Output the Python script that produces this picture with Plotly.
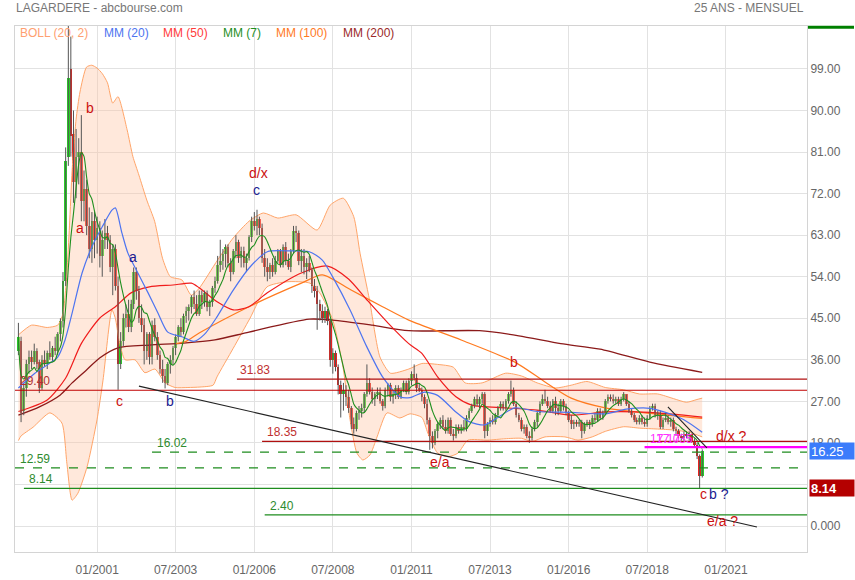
import plotly.graph_objects as go
import pandas as pd

# ---------------- DATA (monthly, 1998-07 .. 2020-04) ----------------
start = pd.Timestamp("1998-07-01")
months = pd.date_range("1998-07-01", periods=262, freq="MS")

opens = [
    38, 40, 25, 30, 35, 36.5,
    35.5, 38, 35.5, 30, 36, 35, 37.5, 36.5, 38.5, 38, 41.5, 44.5,
    53, 80, 99, 85, 74.5, 80, 81, 70.5, 73, 65, 60, 66,
    62, 64.5, 58.5, 62, 63.5, 62, 56, 60, 52, 35, 40, 45,
    46, 43, 48, 55, 51, 45, 43.5, 38, 41.5, 36.5, 43.5, 41,
    37, 34, 32.5, 31, 35, 36, 38.5, 41, 43, 42, 45.5, 46.5,
    47.5, 49.5, 48, 46, 50, 48.5, 50.5, 47.5, 48.5, 51.5, 53, 56.5,
    57.5, 59, 60.5, 57, 55, 59.5, 61.5, 58, 59.5, 57, 58, 62.5,
    66, 65, 66.5, 64.5, 58, 56, 55, 56.5, 55, 57.5, 59.5, 56.5,
    60.5, 57.5, 56, 59.5, 64, 63.5, 57.5, 58.5, 56, 57, 55.5, 52,
    51, 48, 46.5, 45, 46.5, 44.5, 36, 37.5, 34.5, 30.5, 28.5, 29.5,
    28, 25.5, 22, 21, 24.5, 25, 25.5, 28.5, 31, 29, 27.5, 28.5,
    29, 27, 26, 29.5, 30.5, 28, 28.5, 30, 28, 29.5, 31, 29,
    31.5, 33, 32, 30, 29.5, 28, 26.5, 23, 19.5, 18, 20.5, 22,
    23, 21.5, 20.5, 23, 20, 19.5, 21.5, 20.5, 21.5, 21, 23.5, 25,
    26, 27.5, 26.5, 27.5, 28.5, 20.5, 22, 23, 22.5, 24, 25.5, 26.5,
    25.5, 27, 28.5, 29.5, 26.5, 24, 23, 21, 21.5, 19.5, 19, 21,
    22.5, 24.5, 26.5, 27.5, 27, 26, 25, 27, 25.5, 25, 27, 26,
    24.5, 23, 22, 22.5, 22, 22.5, 20.5, 22, 22.5, 22, 23.5, 23,
    25, 23.5, 24.5, 27, 28, 27.5, 27, 27.5, 26.5, 27.5, 28.5, 26.5,
    25, 24, 23, 22.5, 23.5, 22.5, 22, 23.5, 25.5, 26, 24, 24.5,
    21.5, 23, 23.5, 22.5, 23, 21, 20.5, 19.5, 19, 20, 19.5, 20,
    18.5, 17.5, 15.2, 10.8,
]
highs = [
    44, 41, 31, 36, 38, 38,
    39.5, 38.5, 36, 37, 38, 38, 40, 39, 41, 42, 45, 55,
    82, 110, 106, 90, 86, 84, 89, 77, 75, 69, 68, 68,
    67, 66, 64, 66.5, 65, 63, 61, 61, 54, 42, 46, 48,
    49, 49, 56, 56, 52, 48, 45, 42, 42, 44.5, 45, 42,
    38, 36, 34, 35.5, 37, 39, 41.5, 43.5, 45, 46, 47.5, 48,
    50, 51, 50, 51, 51, 51, 51, 49, 52, 54, 58.5, 62,
    60, 61, 61, 58, 60, 63, 62, 60.5, 60.5, 59, 63, 67,
    68, 68.5, 67, 65.5, 60, 58, 57, 58, 58.5, 60, 60, 61,
    61.5, 59, 60, 65, 65, 64, 60, 60, 58, 58.5, 56, 53.5,
    52, 49, 48, 47.5, 47, 45, 38.5, 38, 35, 31.5, 31, 30.5,
    29.5, 26, 23.5, 25, 26, 26.5, 29, 35, 32, 30, 29, 30,
    30, 27.5, 30, 31, 31, 29.5, 30.5, 30.5, 30, 31.5, 31.5, 32,
    33.5, 35, 33, 31, 30, 28.5, 27.5, 23.5, 20.5, 21, 22.5, 23.5,
    24, 23, 23.5, 23.5, 21, 22, 22, 22, 23, 24, 25.5, 26.5,
    28, 28.5, 28, 29, 29, 22.5, 23.5, 24, 24.5, 26, 27, 27,
    27.5, 29, 31.5, 30, 27, 24.5, 23.5, 22, 22, 20.5, 21.5, 23,
    25, 27, 28.5, 29.5, 28, 27, 27.5, 28, 26.5, 27.5, 27.5, 26.5,
    25, 24, 23, 23, 23, 23, 22.5, 23, 23, 24, 24.5, 25.5,
    25.5, 25, 27.5, 28.5, 28.5, 28.5, 28, 28, 28, 29, 28.5, 27,
    25.5, 24.5, 23.5, 24, 24, 23.5, 24, 26, 26.5, 26.5, 25, 25,
    23.5, 24.5, 24, 23.5, 23.5, 21.5, 21, 20, 20.5, 20.5, 20.5, 20,
    19, 18, 15.5, 16.6,
]
lows = [
    37, 22.5, 24, 28, 33, 34,
    35, 34, 28.8, 29.5, 34.5, 34, 36, 35.5, 37, 37, 40, 43,
    52, 78, 80, 70, 71, 74, 66, 66, 63, 58, 57, 58,
    59, 56, 54, 60, 60, 55, 50, 51, 29.5, 34, 39, 43,
    42, 42, 47, 49, 44, 42, 35, 36, 35, 35, 40, 36,
    33, 31, 29.8, 30.5, 33, 35, 37, 40, 41, 41.5, 44, 44.5,
    46, 47, 45.5, 45.5, 47, 47.5, 46.5, 45.5, 47.5, 50.5, 52.5, 55,
    55.5, 56, 56, 53, 54.5, 58, 57, 56, 56, 55, 57.5, 61.5,
    64, 63, 63, 57, 54, 53, 53.5, 54, 54.5, 57, 56, 56,
    56.5, 55.5, 55, 59, 61.5, 56.5, 55, 54.5, 53.5, 55, 50.5, 49.5,
    42.5, 44.5, 44, 44, 43.5, 34.5, 33, 33.5, 28.5, 23.5, 25, 26,
    24.5, 21, 20, 20.5, 23, 23.5, 24.5, 28, 28.5, 26.5, 26, 27.5,
    26.5, 25, 25.5, 28, 27, 26.5, 27.5, 27.5, 27.5, 29, 28.5, 28.5,
    30.5, 31.5, 29, 29, 27, 25.5, 22, 16.5, 16.8, 17.5, 19, 21,
    21, 20, 20, 19.5, 18.5, 19, 20, 20, 20.5, 20.5, 23, 24.5,
    25.5, 26, 25.5, 26.5, 19, 19.5, 21.5, 22, 22, 23.5, 25, 25,
    25, 26.5, 28, 26, 23.5, 22.5, 20.5, 20, 19, 18, 18.5, 20.5,
    21.5, 24, 26, 26.5, 25.5, 24.5, 24.5, 24, 24, 24.5, 25, 24,
    22.5, 21, 21, 21.5, 21.5, 19, 20, 21.5, 21, 21.5, 22.5, 22.5,
    23, 23, 24, 26.5, 27, 26.5, 26.5, 26, 26, 27, 26, 24.5,
    23.5, 22.5, 22, 22, 22, 21.5, 21.5, 23, 25, 23.5, 23, 21,
    21, 22.5, 22, 21.5, 20.5, 19.5, 19, 18.5, 18.5, 19, 18.5, 18,
    17, 14.5, 8.14, 10.5,
]
closes = [
    41, 24.5, 30, 35, 36.5, 35.5,
    38, 35, 30, 36, 35, 37.5, 36.5, 38.5, 38, 41.5, 44.5, 53,
    79, 97, 84.5, 74.5, 80, 81, 70.5, 73, 65, 60, 66, 62,
    64.5, 58.5, 62, 63.5, 62, 56, 60, 52, 35, 40, 45, 46,
    43, 48, 55, 51, 45, 43.5, 38, 41.5, 36.5, 43.5, 41, 37,
    34, 32.5, 31, 35, 36, 38.5, 41, 43, 42, 45.5, 46.5, 47.5,
    49.5, 48, 46, 50, 48.5, 50.5, 47.5, 48.5, 51.5, 53, 56.5, 57.5,
    59, 60.5, 57, 55, 59.5, 61.5, 58, 59.5, 57, 58, 62.5, 66,
    65, 66.5, 64.5, 58, 56, 55, 56.5, 55, 57.5, 59.5, 56.5, 60.5,
    57.5, 56, 59.5, 64, 63.5, 57.5, 58.5, 56, 57, 55.5, 52, 51,
    48, 46.5, 45, 46.5, 44.5, 36, 37.5, 34.5, 30.5, 28.5, 29.5, 28,
    25.5, 22, 21, 24.5, 25, 25.5, 28.5, 31, 29, 27.5, 28.5, 29,
    27, 26, 29.5, 30.5, 28, 28.5, 30, 28, 29.5, 31, 29, 31.5,
    33, 32, 30, 29.5, 28, 26.5, 23, 19.5, 18, 20.5, 22, 23,
    21.5, 20.5, 23, 20, 19.5, 21.5, 20.5, 21.5, 21, 23.5, 25, 26,
    27.5, 26.5, 27.5, 28.5, 20.5, 22, 23, 22.5, 24, 25.5, 26.5, 25.5,
    27, 28.5, 29.5, 26.5, 24, 23, 21, 21.5, 19.5, 19, 21, 22.5,
    24.5, 26.5, 27.5, 27, 26, 25, 27, 25.5, 25, 27, 26, 24.5,
    23, 22, 22.5, 22, 22.5, 20.5, 22, 22.5, 22, 23.5, 23, 25,
    23.5, 24.5, 27, 28, 27.5, 27, 27.5, 26.5, 27.5, 28.5, 26.5, 25,
    24, 23, 22.5, 23.5, 22.5, 22, 23.5, 25.5, 26, 24, 24.5, 21.5,
    23, 23.5, 22.5, 23, 21, 20.5, 19.5, 19, 20, 19.5, 20, 18.5,
    17.5, 15.2, 10.8, 16.25,
]

# Indicator readings (month index from 1998-07, value)
boll_up_m = [0, 5, 11, 15, 17, 18.5, 19.5, 20.5, 22, 23.5, 26, 28, 30, 32, 34, 36, 38, 41.5, 43.7, 46, 49, 52, 55, 58, 62.4, 66, 69, 76, 82, 88, 93.5, 99, 106, 114, 119, 124, 128, 130.4, 134, 138, 142, 149, 154, 160, 166, 170.5, 177, 186, 192, 198, 205, 211, 217, 224, 231, 237, 244, 250, 255, 259, 261]
boll_up_v = [41.4, 43.5, 43, 43.5, 46, 55, 65, 77, 88, 94, 99.4, 99.8, 99.2, 98, 96, 91.6, 93, 85.8, 80, 76, 70.6, 66, 58, 54, 53.3, 50, 51.5, 57.6, 62.4, 66, 67.8, 66.7, 67.4, 64.1, 69.5, 71, 67, 59.1, 49, 36.6, 33.1, 34, 35.2, 35, 34.4, 31, 31, 33.1, 32.5, 31, 29.9, 30.5, 31.3, 30, 29.5, 28.6, 28.6, 27.6, 26.8, 27.4, 27.7]
boll_lo_m = [0, 1, 5.6, 12, 16.6, 18.5, 20.5, 22.7, 26.2, 30, 32.3, 35.7, 37, 38.5, 40.7, 44.5, 48.3, 52.1, 56, 59.8, 64.7, 69.3, 74.3, 75.8, 82, 88.4, 94.9, 102.5, 111.3, 115, 120, 123.9, 126.6, 129.2, 131.5, 134.2, 136.9, 140.7, 145.6, 149.5, 154, 156.3, 160, 164, 167.8, 171.6, 179.2, 185.7, 192, 196, 201, 208.6, 213.6, 219, 224, 231, 237, 244, 250, 256, 261]
boll_lo_v = [18.5, 19.5, 21.4, 24.5, 22.3, 13.6, 5.6, 7.1, 12.8, 23, 31.6, 46.8, 45, 40, 36, 36, 33.2, 34, 31, 30, 30, 30.1, 30.5, 32.3, 38.5, 45, 51.8, 52.9, 52.6, 50.5, 44.6, 34.4, 23, 15.8, 14.3, 15.4, 19.3, 24.5, 23.4, 24.3, 23.5, 20.1, 15.8, 15, 15.8, 18.6, 18.6, 18.9, 19, 18.3, 19.3, 19.3, 18.6, 19.3, 20.5, 21.5, 21.2, 21, 20.8, 20.3, 19.3]
mm20_m = [0, 6.3, 11, 15, 17.8, 20.5, 24.3, 28, 32, 35.7, 37, 39.5, 41.8, 45.6, 49.5, 53.3, 57, 62.4, 67, 71, 75.8, 82, 88.4, 95, 102.5, 111, 116, 120, 126.6, 133, 139, 145.6, 149.5, 155, 160, 167, 172, 178, 183, 189.5, 198, 211, 224, 232, 241, 247, 254, 261]
mm20_v = [29.9, 33.1, 34.9, 36.6, 40.3, 46.1, 54.8, 60.4, 64.8, 68.4, 68.9, 63.5, 59.1, 54.8, 50.5, 46.1, 42, 41, 40, 41.5, 45.3, 51.1, 56.1, 59.4, 59.6, 59.4, 57.6, 53.9, 46.8, 38.8, 32.3, 28, 27.8, 29, 28.3, 24.7, 22.6, 21.9, 23.5, 25.6, 24.8, 24.6, 24.3, 25.3, 25.5, 24.6, 23, 20.3]
mm50_m = [0, 11, 18, 24, 31, 37, 43, 50, 59, 66, 69, 76, 82, 88, 95, 108, 118, 126, 133, 141, 149, 154, 160, 167, 173, 186, 198, 211, 224, 241, 261]
mm50_v = [24.8, 27.3, 32, 39.5, 45, 47.5, 50.5, 51.8, 52.2, 52.6, 51.6, 48.5, 46.8, 47.5, 50.5, 54.8, 56.3, 53.5, 49, 44, 39.5, 37.4, 32.3, 28, 26.2, 25.6, 25.1, 24, 24.7, 24.6, 23.6]
mm100_m = [60, 64, 69, 88, 108, 116, 127, 139, 149, 169, 189.5, 201, 211, 224, 241, 261]
mm100_v = [39.5, 40, 41.8, 47.5, 52.6, 54.4, 51.1, 47.5, 44.6, 40.3, 35.5, 31.2, 27.7, 25.6, 24.4, 23.3]
mm200_m = [0, 8, 16, 20.5, 26, 31, 38, 50, 63, 75, 88, 111, 120, 135, 149, 176, 191, 207, 222, 241, 261]
mm200_v = [24, 25.8, 28.4, 31, 33.8, 36.4, 38.6, 39.2, 39.6, 40.3, 42, 44.8, 44.6, 43.5, 42.3, 42.3, 41.2, 39.5, 38.3, 35.5, 33.3]

# Horizontal levels: value, start month, colour, dash, label
level_vals = [31.83, 29.40, 18.35, 16.02, 12.59, 8.14, 2.40]
level_start = [83.4, -1.3, 93, 51, -1.3, 2.1, 94]
level_label_m = [84.2, 0.3, 94.5, 52.5, 0.3, 3.6, 95.5]
level_colors = ["#b01010", "#c00000", "#b01010", "#1e8c1e", "#1e8c1e", "#1e8c1e", "#1e8c1e"]
level_label_colors = ["#c03030", "#b03030", "#c03030", "#2e8b2e", "#2e8b2e", "#2e8b2e", "#2e8b2e"]
level_dash = ["solid", "solid", "solid", "dash", "dash", "solid", "solid"]

# Wave labels: text, month, value, colour
wave_text = ["b", "a", "a", "c", "b", "d/x", "c", "b", "e/a", "d/x ?", "c", "b ?", "e/a ?"]
wave_m = [27.3, 23.5, 43.7, 38.4, 57.9, 91.5, 90.7, 189.2, 160.9, 272.2, 261.4, 267.3, 268.8]
wave_v = [90.6, 64.6, 58.3, 27.1, 27.1, 76.5, 72.8, 35.5, 13.9, 19.5, 6.9, 6.9, 1.1]
wave_col = ["#cc1010", "#cc1010", "#1a1a90", "#cc1010", "#1a1a90", "#cc1010", "#1a1a90", "#cc1010", "#cc1010", "#cc1010", "#cc1010", "#1a1a90", "#cc1010"]

ytick_vals = [0, 9, 18, 27, 36, 45, 54, 63, 72, 81, 90, 99]
ytick_text = ["0.000", "9.00", "18.00", "27.00", "36.00", "45.00", "54.00", "63.00", "72.00", "81.00", "90.00", "99.00"]
xtick_dates = ["2001-01-01", "2003-07-01", "2006-01-01", "2008-07-01", "2011-01-01", "2013-07-01", "2016-01-01", "2018-07-01", "2021-01-01"]
xtick_text = ["01/2001", "07/2003", "01/2006", "07/2008", "01/2011", "07/2013", "01/2016", "07/2018", "01/2021"]


def mdate(m):
    return start + pd.Timedelta(days=float(m) * 30.4375)


fig = go.Figure()

# Bollinger band
fig.add_trace(go.Scatter(x=[mdate(m) for m in boll_lo_m], y=boll_lo_v, mode="lines",
                         line=dict(color="#ffa569", width=1, shape="spline", smoothing=0.6),
                         hoverinfo="skip"))
fig.add_trace(go.Scatter(x=[mdate(m) for m in boll_up_m], y=boll_up_v, mode="lines",
                         line=dict(color="#ffa569", width=1, shape="spline", smoothing=0.6),
                         fill="tonexty", fillcolor="rgba(255,195,160,0.38)", hoverinfo="skip"))

# Long moving averages
for mm_m, mm_v, col, w in [(mm200_m, mm200_v, "#8b1a1a", 1.3), (mm100_m, mm100_v, "#ff7a1f", 1.2),
                           (mm50_m, mm50_v, "#f01c1c", 1.2)]:
    fig.add_trace(go.Scatter(x=[mdate(m) for m in mm_m], y=mm_v, mode="lines",
                             line=dict(color=col, width=w, shape="spline", smoothing=0.7),
                             hoverinfo="skip"))

# Candles: wicks then bodies
wx, wy = [], []
for d, lo, hi in zip(months, lows, highs):
    wx += [d, d, None]
    wy += [lo, hi, None]
fig.add_trace(go.Scatter(x=wx, y=wy, mode="lines", line=dict(color="#555555", width=1),
                         hoverinfo="skip", connectgaps=False))
body_base = [min(o, c) for o, c in zip(opens, closes)]
body_h = [max(abs(c - o), 0.3) for o, c in zip(opens, closes)]
body_col = ["#27d127" if c >= o else "#e8231f" for o, c in zip(opens, closes)]
fig.add_trace(go.Bar(x=months, y=body_h, base=body_base, width=30 * 86400000,
                     marker=dict(color=body_col, line=dict(width=0)), hoverinfo="skip"))

# MM20 and MM7
fig.add_trace(go.Scatter(x=[mdate(m) for m in mm20_m], y=mm20_v, mode="lines",
                         line=dict(color="#4d74f0", width=1.2, shape="spline", smoothing=0.7),
                         hoverinfo="skip"))
mm7 = pd.Series(closes).rolling(7, min_periods=1).mean()
fig.add_trace(go.Scatter(x=months, y=mm7, mode="lines",
                         line=dict(color="#1f8f1f", width=1.1, shape="spline", smoothing=0.6),
                         hoverinfo="skip"))

x_end = mdate(301)
shapes = []
annotations = []

for v, s, col, dash, lm, lcol in zip(level_vals, level_start, level_colors, level_dash,
                                      level_label_m, level_label_colors):
    shapes.append(dict(type="line", xref="x", yref="y", x0=mdate(s), x1=x_end, y0=v, y1=v,
                       line=dict(color=col, width=1.2, dash=dash), layer="above"))
    annotations.append(dict(x=mdate(lm), y=v, xref="x", yref="y", text=f"{v:.2f}",
                            showarrow=False, xanchor="left", yanchor="bottom",
                            font=dict(size=12, color=lcol), borderpad=0, yshift=1))

# magenta levels
shapes.append(dict(type="line", xref="x", yref="y", x0=mdate(239), x1=x_end, y0=17.1, y1=17.1,
                   line=dict(color="#ff00ff", width=2.2), layer="above"))
annotations.append(dict(x=mdate(240.5), y=17.1, xref="x", yref="y", text="17.17", showarrow=False,
                        xanchor="left", yanchor="bottom", font=dict(size=12, color="#ff33ff"),
                        borderpad=0, yshift=0))
annotations.append(dict(x=mdate(243), y=17.1, xref="x", yref="y", text="17.035", showarrow=False,
                        xanchor="left", yanchor="bottom", font=dict(size=12, color="#ff33ff"),
                        borderpad=0, yshift=0))

# trend lines
shapes.append(dict(type="line", xref="x", yref="y", x0=mdate(46), y0=30.3, x1=mdate(281.9), y1=-0.2,
                   line=dict(color="#222222", width=1.1), layer="above"))
shapes.append(dict(type="line", xref="x", yref="y", x0=mdate(247.9), y0=25.8, x1=mdate(262.8), y1=16.9,
                   line=dict(color="#222222", width=1.1), layer="above"))

# wave labels
for t, m, v, c in zip(wave_text, wave_m, wave_v, wave_col):
    annotations.append(dict(x=mdate(m), y=v, xref="x", yref="y", text=t, showarrow=False,
                            xanchor="center", yanchor="middle", font=dict(size=14, color=c)))

# legend texts
legend_items = [("BOLL (20, 2)", 17.5, "#ffa070"), ("MM (20)", 101.5, "#4d74f0"), ("MM (50)", 161, "#ff3b3b"),
                ("MM (7)", 220.5, "#1f8f1f"), ("MM (100)", 273.5, "#ff7a1f"), ("MM (200)", 340.5, "#9b2a2a")]
for t, px, c in legend_items:
    annotations.append(dict(x=(px - 15) / 792, y=(552 - 33.5) / 526, xref="paper", yref="paper", text=t,
                            showarrow=False, xanchor="left", yanchor="middle",
                            font=dict(size=12, color=c)))

# titles
annotations.append(dict(x=-1.5 / 792, y=1 + (26 - 8.5) / 526, xref="paper", yref="paper",
                        text="LAGARDERE - abcbourse.com", showarrow=False, xanchor="left",
                        yanchor="middle", font=dict(size=12, color="#777777")))
annotations.append(dict(x=(806 - 15) / 792, y=1 + (26 - 8.5) / 526, xref="paper", yref="paper",
                        text="25 ANS - MENSUEL", showarrow=False, xanchor="right",
                        yanchor="middle", font=dict(size=12, color="#777777")))

# price boxes on the right axis
annotations.append(dict(x=(809 - 15) / 792, y=closes[-1], xref="paper", yref="y", text="16.25",
                        showarrow=False, xanchor="left", yanchor="middle", align="left",
                        bgcolor="#3b7cfb", width=42, height=14, borderpad=1,
                        font=dict(size=13, color="white")))
annotations.append(dict(x=(809 - 15) / 792, y=min(lows), xref="paper", yref="y", text="<b>8.14</b>",
                        showarrow=False, xanchor="left", yanchor="middle", align="left",
                        bgcolor="#b40000", width=42, height=14, borderpad=1,
                        font=dict(size=13, color="white")))
shapes.append(dict(type="line", xref="paper", yref="paper", x0=(808 - 15) / 792, x1=(854 - 15) / 792,
                   y0=0.9975, y1=0.9975, line=dict(color="#008000", width=3)))

fig.update_layout(
    width=855, height=580,
    margin=dict(l=15, r=48, t=26, b=28),
    paper_bgcolor="white", plot_bgcolor="white",
    showlegend=False, bargap=0, hovermode=False,
    font=dict(family="Arial, Liberation Sans, sans-serif"),
    xaxis=dict(type="date", range=[mdate(-1.3), x_end], tickvals=xtick_dates, ticktext=xtick_text,
               showgrid=True, gridcolor="#e2e2e2", gridwidth=1, showline=True, linecolor="#d4d4d4",
               mirror=True, ticks="", zeroline=False, tickfont=dict(size=12, color="#666666"),
               ticklabelstandoff=7, automargin=False, rangeslider=dict(visible=False)),
    yaxis=dict(range=[-5.63, 108.3], side="right", tickvals=ytick_vals, ticktext=ytick_text,
               showgrid=True, gridcolor="#e2e2e2", gridwidth=1, showline=True, linecolor="#d4d4d4",
               mirror=True, ticks="", zeroline=False, automargin=False,
               tickfont=dict(size=12, color="#666666")),
    shapes=shapes, annotations=annotations,
)

# remove the browser's default page margin so the 855x580 figure fills the window
fig.write_html("out.html", config={"displayModeBar": False},
               post_script="document.body.style.margin='0';")
